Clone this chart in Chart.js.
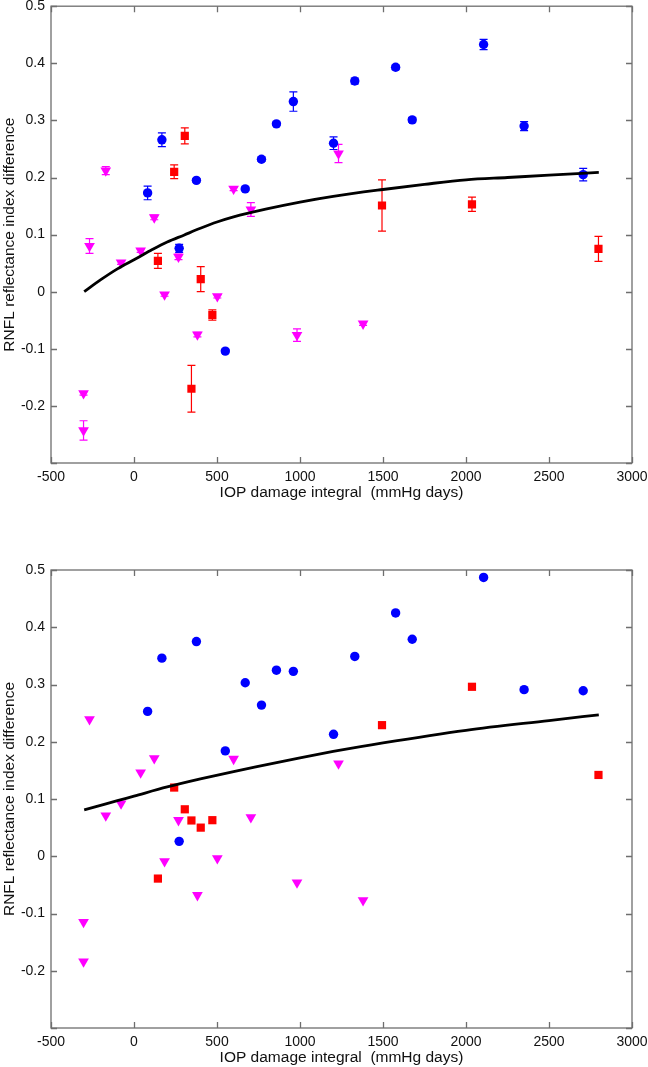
<!DOCTYPE html>
<html lang="en">
<head>
<meta charset="UTF-8">
<title>RNFL reflectance index difference vs IOP damage integral</title>
<script src="https://cdn.jsdelivr.net/npm/chart.js"></script>
<style>
    body { margin: 0; background: #fff; }
    canvas { display: block; }
</style>
</head>
<body>
<canvas id="topChart" width="648" height="533"></canvas>
<canvas id="bottomChart" width="648" height="534"></canvas>
<script>
// x positions (IOP damage integral, mmHg days) - same eyes in both panels
const blueX = [82, 168, 272, 376, 550, 670, 768, 858, 960, 1202, 1330, 1576, 1676, 2106, 2350, 2706];
const redX = [144, 242, 306, 346, 402, 472, 1494, 2036, 2798];
const magentaX = [-304, -304, -268, -170, -78, 40, 122, 184, 268, 382, 502, 600, 704, 982, 1232, 1380];

// top panel
const topBlueY = [0.173, 0.266, 0.076, 0.195, -0.104, 0.180, 0.232, 0.294, 0.333, 0.260, 0.369, 0.393, 0.301, 0.433, 0.290, 0.205];
const topBlueErr = [0.012, 0.012, 0.007, 0.003, 0.003, 0.003, 0.004, 0.003, 0.017, 0.011, 0.005, 0.004, 0.004, 0.009, 0.008, 0.011];
const topRedY = [0.054, 0.210, 0.273, -0.170, 0.022, -0.041, 0.151, 0.153, 0.075];
const topRedErr = [0.013, 0.012, 0.014, 0.041, 0.022, 0.009, 0.045, 0.0125, 0.022];
const topMagentaY = [-0.178, -0.243, 0.080, 0.212, 0.051, 0.072, 0.130, -0.005, 0.061, -0.075, -0.008, 0.180, 0.144, -0.076, 0.242, -0.056];
const topMagentaErr = [0.003, 0.017, 0.013, 0.007, 0.003, 0.003, 0.004, 0.003, 0.005, 0.004, 0.003, 0.003, 0.012, 0.011, 0.016, 0.003];
const topFitX = [-300, -200, -100, 0, 100, 200, 300, 400, 500, 600, 800, 1000, 1200, 1500, 1750, 2000, 2250, 2500, 2800];
const topFitY = [0, 0.021, 0.040, 0.056, 0.072, 0.087, 0.099, 0.111, 0.122, 0.131, 0.145, 0.157, 0.167, 0.179, 0.188, 0.196, 0.200, 0.204, 0.209];

// bottom panel
const bottomBlueY = [0.253, 0.346, 0.026, 0.375, 0.184, 0.303, 0.264, 0.325, 0.323, 0.213, 0.349, 0.425, 0.379, 0.487, 0.291, 0.289];
const bottomRedY = [-0.039, 0.120, 0.082, 0.0625, 0.050, 0.063, 0.229, 0.296, 0.142];
const bottomMagentaY = [-0.115, -0.184, 0.239, 0.071, 0.092, 0.146, 0.171, -0.009, 0.063, -0.068, -0.0035, 0.170, 0.068, -0.046, 0.162, -0.077];
const bottomFitX = [-300, -100, 0, 200, 400, 600, 800, 1000, 1200, 1500, 2000, 2500, 2800];
const bottomFitY = [0.081, 0.097, 0.105, 0.121, 0.135, 0.148, 0.160, 0.172, 0.183, 0.198, 0.220, 0.237, 0.247];

// ticks
const xTickValues = [-500, 0, 500, 1000, 1500, 2000, 2500, 3000];
const xTickLabels = ['-500', '0', '500', '1000', '1500', '2000', '2500', '3000'];
const yTickValues = [-0.3, -0.2, -0.1, 0, 0.1, 0.2, 0.3, 0.4, 0.5];
const yTickLabels = ['', '-0.2', '-0.1', '0', '0.1', '0.2', '0.3', '0.4', '0.5'];

Chart.defaults.font.family = '"Liberation Sans", Arial, sans-serif';
Chart.defaults.color = '#111';

function pts(xs, ys) {
    return xs.map((x, i) => ({ x: x, y: ys[i] }));
}

// vertical error bars with caps, drawn under the markers
const errorBars = {
    id: 'errorBars',
    beforeDatasetsDraw(chart) {
        const ctx = chart.ctx;
        const xs = chart.scales.x, ys = chart.scales.y;
        chart.data.datasets.forEach(ds => {
            if (!ds.errors) return;
            ctx.save();
            ctx.strokeStyle = ds.borderColor;
            ctx.lineWidth = 1.2;
            ds.data.forEach((p, i) => {
                const px = xs.getPixelForValue(p.x);
                const y1 = ys.getPixelForValue(p.y + ds.errors[i]);
                const y2 = ys.getPixelForValue(p.y - ds.errors[i]);
                ctx.beginPath();
                ctx.moveTo(px, y1); ctx.lineTo(px, y2);
                ctx.moveTo(px - 4, y1); ctx.lineTo(px + 4, y1);
                ctx.moveTo(px - 4, y2); ctx.lineTo(px + 4, y2);
                ctx.stroke();
            });
            ctx.restore();
        });
    }
};

// matlab style box with inward ticks
const axesBox = {
    id: 'axesBox',
    afterDraw(chart) {
        const ctx = chart.ctx;
        const a = chart.chartArea;
        const xs = chart.scales.x, ys = chart.scales.y;
        const len = 6;
        ctx.save();
        ctx.strokeStyle = '#6e6e6e';
        ctx.lineWidth = 1.3;
        ctx.strokeRect(a.left, a.top, a.right - a.left, a.bottom - a.top);
        ctx.beginPath();
        xTickValues.forEach(v => {
            const px = Math.round(xs.getPixelForValue(v)) + 0.5;
            ctx.moveTo(px, a.bottom); ctx.lineTo(px, a.bottom - len);
            ctx.moveTo(px, a.top); ctx.lineTo(px, a.top + len);
        });
        yTickValues.forEach(v => {
            const py = Math.round(ys.getPixelForValue(v)) + 0.5;
            ctx.moveTo(a.left, py); ctx.lineTo(a.left + len, py);
            ctx.moveTo(a.right, py); ctx.lineTo(a.right - len, py);
        });
        ctx.stroke();
        ctx.restore();
    }
};

function makeChart(id, topPad, bottomPad, blueY, redY, magentaY, fitX, fitY, errs) {
    const datasets = [
        {
            type: 'line', data: pts(fitX, fitY), borderColor: '#000', borderWidth: 2.8,
            pointRadius: 0, tension: 0.4, cubicInterpolationMode: 'monotone', fill: false
        },
        {
            data: pts(blueX, blueY), backgroundColor: '#0000ff', borderColor: '#0000ff',
            pointStyle: 'circle', pointRadius: 4.7, borderWidth: 0, errors: errs ? errs[0] : null
        },
        {
            data: pts(redX, redY), backgroundColor: '#ff0000', borderColor: '#ff0000',
            pointStyle: 'rect', pointRadius: 5.8, borderWidth: 0, errors: errs ? errs[1] : null
        },
        {
            data: pts(magentaX, magentaY), backgroundColor: '#ff00ff', borderColor: '#ff00ff',
            pointStyle: 'triangle', rotation: 180, pointRadius: 6.2, borderWidth: 0, errors: errs ? errs[2] : null
        }
    ];
    return new Chart(document.getElementById(id), {
        type: 'scatter',
        data: { datasets: datasets },
        options: {
            responsive: false,
            animation: false,
            devicePixelRatio: 1,
            layout: { padding: { top: topPad, right: 16, left: 0, bottom: bottomPad } },
            plugins: { legend: { display: false }, tooltip: { enabled: false } },
            scales: {
                x: {
                    type: 'linear', min: -500, max: 3000,
                    afterBuildTicks: s => { s.ticks = xTickValues.map(v => ({ value: v })); },
                    afterFit: s => { s.height = 39; s.paddingLeft = 0; s.paddingRight = 0; },
                    grid: { display: false, drawTicks: false },
                    border: { display: false },
                    ticks: { callback: (v, i) => xTickLabels[i], font: { size: 14 }, padding: 6, maxRotation: 0, autoSkip: false },
                    title: { display: true, text: 'IOP damage integral  (mmHg days)', font: { size: 15.5 }, padding: { top: 2, bottom: 0 } }
                },
                y: {
                    type: 'linear', min: -0.3, max: 0.5,
                    afterBuildTicks: s => { s.ticks = yTickValues.map(v => ({ value: v })); },
                    afterFit: s => { s.width = 51; s.paddingTop = 0; s.paddingBottom = 0; },
                    grid: { display: false, drawTicks: false },
                    border: { display: false },
                    ticks: { callback: (v, i) => yTickLabels[i], font: { size: 14 }, padding: 6, autoSkip: false },
                    title: { display: true, text: 'RNFL reflectance index difference', font: { size: 15.5 }, padding: { top: 0, bottom: 0 } }
                }
            }
        },
        plugins: [errorBars, axesBox]
    });
}

makeChart('topChart', 5, 31, topBlueY, topRedY, topMagentaY, topFitX, topFitY,
    [topBlueErr, topRedErr, topMagentaErr]);
makeChart('bottomChart', 37, 0, bottomBlueY, bottomRedY, bottomMagentaY, bottomFitX, bottomFitY, null);
</script>
</body>
</html>
